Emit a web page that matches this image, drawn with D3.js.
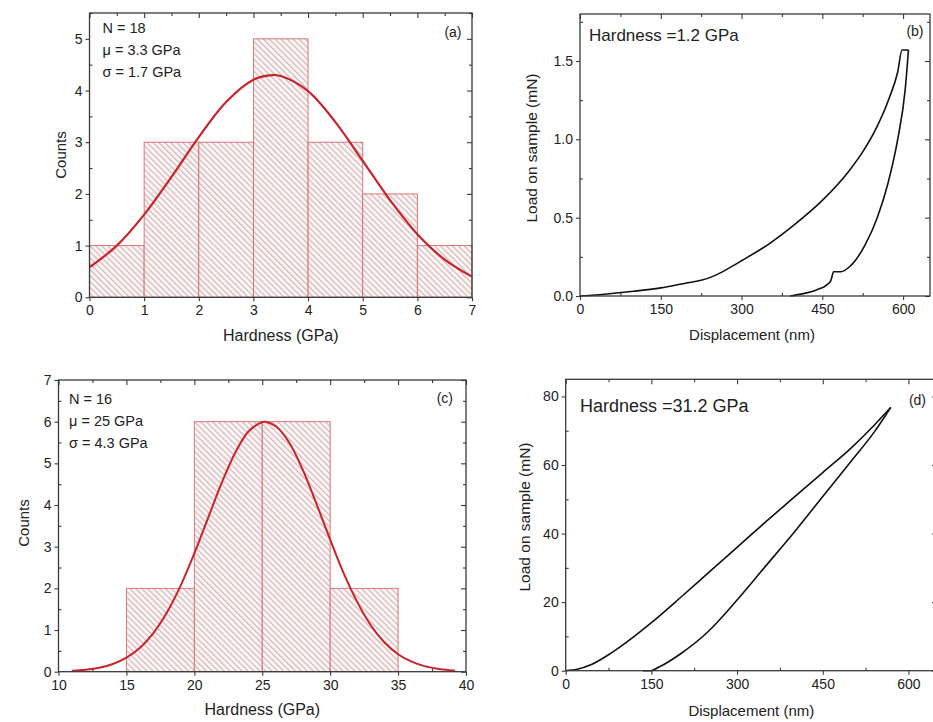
<!DOCTYPE html>
<html>
<head>
<meta charset="utf-8">
<script src="https://cdn.jsdelivr.net/npm/d3@7"></script>
<style>
  body { margin: 0; background: #fff; }
  svg { display: block; font-family: "Liberation Sans", Arial, sans-serif; }
  .frame { fill: none; stroke: #3a3a3a; stroke-width: 1.3; }
  .axis path { display: none; }
  .axis line { stroke: #3a3a3a; stroke-width: 1.1; }
  .axis text { fill: #222; font-size: 14px; font-family: "Liberation Sans", Arial, sans-serif; }
</style>
</head>
<body>
<svg id="fig" width="933" height="722"></svg>
<script>
// ---- panel (a): hardness histogram, soft sample
const binEdgesA = [0, 1, 2, 3, 4, 5, 6, 7];
const countsA = [1, 3, 3, 5, 3, 2, 1];
const fitXA = [0, 0.5, 1, 1.5, 2, 2.5, 3, 3.35, 3.5, 4, 4.5, 5, 5.5, 6, 6.5, 7];
const fitYA = [0.58, 1.0, 1.6, 2.33, 3.1, 3.78, 4.21, 4.3, 4.28, 3.99, 3.39, 2.64, 1.88, 1.22, 0.73, 0.4];
const statsA = ["N = 18", "\u03bc = 3.3 GPa", "\u03c3 = 1.7 GPa"];

// ---- panel (b): load-displacement, 1.2 GPa
const loadXB = [0, 50, 100, 150, 200, 225, 250, 275, 300, 350, 400, 450, 500, 525, 550, 575, 590, 598, 610];
const loadYB = [0, 0.013, 0.03, 0.052, 0.085, 0.1, 0.13, 0.175, 0.225, 0.33, 0.46, 0.61, 0.8, 0.92, 1.07, 1.27, 1.43, 1.57, 1.57];
const unloadXB = [390, 415, 440, 458, 466, 471, 484.5, 500, 512, 530, 552, 572, 590, 604, 610];
const unloadYB = [0, 0.015, 0.04, 0.07, 0.1, 0.155, 0.155, 0.185, 0.23, 0.33, 0.5, 0.72, 1.0, 1.32, 1.57];

// ---- panel (c): hardness histogram, hard sample
const binEdgesC = [15, 20, 25, 30, 35];
const countsC = [2, 6, 6, 2];
const fitXC = [11, 12, 13, 14, 15, 16, 17, 18, 19, 20, 21, 22, 23, 24, 25, 25.2, 26, 27, 28, 29, 30, 31, 32, 33, 34, 35, 36, 37, 38, 39, 39.2];
const fitYC = [0.023, 0.048, 0.097, 0.186, 0.337, 0.576, 0.933, 1.43, 2.07, 2.84, 3.68, 4.52, 5.25, 5.77, 5.99, 6.0, 5.89, 5.49, 4.83, 4.02, 3.17, 2.36, 1.67, 1.11, 0.7, 0.42, 0.24, 0.127, 0.064, 0.031, 0.025];
const statsC = ["N = 16", "\u03bc = 25 GPa", "\u03c3 = 4.3 GPa"];

// ---- panel (d): load-displacement, 31.2 GPa
const loadXD = [0, 20, 45, 80, 120, 150, 200, 250, 300, 350, 400, 450, 500, 540, 569];
const loadYD = [0, 0.4, 1.8, 5.2, 10, 14, 21.2, 28.6, 36, 43.4, 50.6, 57.8, 65, 71.6, 76.8];
const unloadXD = [135, 148, 165, 200, 250, 300, 350, 400, 450, 500, 540, 569];
const unloadYD = [0, 0, 1.2, 4.8, 11.5, 20.6, 30.5, 40.4, 50.8, 61.2, 69.6, 76.8];

// ---- tick values
const xTicksA = [0, 1, 2, 3, 4, 5, 6, 7], yTicksA = [0, 1, 2, 3, 4, 5];
const xTicksB = [0, 150, 300, 450, 600], yTicksB = [0, 0.5, 1.0, 1.5];
const xTicksC = [10, 15, 20, 25, 30, 35, 40], yTicksC = [0, 1, 2, 3, 4, 5, 6, 7];
const xTicksD = [0, 150, 300, 450, 600], yTicksD = [0, 20, 40, 60, 80];

const svg = d3.select("#fig");

//hatch pattern for histogram bars
const defs = svg.append("defs");
const pat = defs.append("pattern")
  .attr("id", "hatch")
  .attr("patternUnits", "userSpaceOnUse")
  .attr("width", 4.2)
  .attr("height", 4.2)
  .attr("patternTransform", "rotate(45)");
pat.append("rect").attr("width", 4.2).attr("height", 4.2).attr("fill", "#fdf6f6");
pat.append("line")
  .attr("x1", 0).attr("x2", 4.2).attr("y1", 1).attr("y2", 1)
  .attr("stroke", "#c6a0a0").attr("stroke-width", 0.9);

function panel(p) {
  const g = svg.append("g");
  const x = d3.scaleLinear().domain(p.xDomain).range([p.left, p.right]);
  const y = d3.scaleLinear().domain(p.yDomain).range([p.bottom, p.top]);
  const w = p.right - p.left, h = p.bottom - p.top;

  //minor ticks (inside)
  g.append("g").attr("class", "axis").attr("transform", `translate(0,${p.bottom})`)
    .call(d3.axisBottom(x).tickValues(p.xMinor).tickSize(-3).tickFormat(""));
  g.append("g").attr("class", "axis").attr("transform", `translate(${p.left},0)`)
    .call(d3.axisLeft(y).tickValues(p.yMinor).tickSize(-3).tickFormat(""));
  g.append("g").attr("class", "axis").attr("transform", `translate(0,${p.top})`)
    .call(d3.axisTop(x).tickValues(p.xMinor).tickSize(-3).tickFormat(""));
  g.append("g").attr("class", "axis").attr("transform", `translate(${p.right},0)`)
    .call(d3.axisRight(y).tickValues(p.yMinor).tickSize(-3).tickFormat(""));
  //major ticks
  g.append("g").attr("class", "axis").attr("transform", `translate(0,${p.bottom})`)
    .call(d3.axisBottom(x).tickValues(p.xTicks).tickSize(4).tickPadding(4).tickFormat(d3.format("d")));
  g.append("g").attr("class", "axis").attr("transform", `translate(${p.left},0)`)
    .call(d3.axisLeft(y).tickValues(p.yTicks).tickSize(4).tickPadding(3).tickFormat(p.yFormat));
  g.append("g").attr("class", "axis").attr("transform", `translate(0,${p.top})`)
    .call(d3.axisTop(x).tickValues(p.xTicks).tickSize(-5).tickFormat(""));
  g.append("g").attr("class", "axis").attr("transform", `translate(${p.right},0)`)
    .call(d3.axisRight(y).tickValues(p.yTicks).tickSize(-5).tickFormat(""));

  //bars
  if (p.counts) {
    g.selectAll("rect.bar")
      .data(p.counts)
      .enter()
      .append("rect")
      .attr("class", "bar")
      .attr("x", (d, i) => x(p.edges[i]))
      .attr("y", d => y(d))
      .attr("width", (d, i) => x(p.edges[i + 1]) - x(p.edges[i]))
      .attr("height", d => y(0) - y(d))
      .attr("fill", "url(#hatch)")
      .attr("stroke", "#d66a6a")
      .attr("stroke-width", 0.9);
  }
  //curves
  p.lines.forEach(l => {
    const pts = l.xs.map((v, i) => [v, l.ys[i]]);
    g.append("path")
      .datum(pts)
      .attr("fill", "none")
      .attr("stroke", l.color)
      .attr("stroke-width", l.width)
      .attr("stroke-linejoin", "round")
      .attr("d", d3.line().x(d => x(d[0])).y(d => y(d[1])).curve(l.curve)(pts));
  });

  g.append("rect").attr("class", "frame")
    .attr("x", p.left).attr("y", p.top).attr("width", w).attr("height", h);

  //axis titles
  g.append("text")
    .attr("x", (p.left + p.right) / 2 + p.xTitleDx)
    .attr("y", p.xTitleY)
    .attr("text-anchor", "middle")
    .style("font-size", p.xTitleSize + "px")
    .attr("fill", "#222")
    .text(p.xTitle);
  g.append("text")
    .attr("transform", `translate(${p.yTitleX},${p.yTitleY}) rotate(-90)`)
    .attr("text-anchor", "middle")
    .style("font-size", p.yTitleSize + "px")
    .attr("fill", "#222")
    .text(p.yTitle);

  //panel letter
  g.append("text")
    .attr("x", p.letterX).attr("y", p.letterY)
    .attr("text-anchor", "end")
    .style("font-size", "14px")
    .attr("fill", "#222")
    .text(p.letter);

  //annotation lines
  p.notes.forEach((t, i) => {
    g.append("text")
      .attr("x", p.noteX)
      .attr("y", p.noteY + i * p.noteStep)
      .style("font-size", p.noteSize + "px")
      .attr("fill", "#222")
      .text(t);
  });
}

const halfSteps = (a, b, s) => d3.range(a, b + s / 2, s);

panel({
  left: 89.5, right: 472, top: 13, bottom: 297.3,
  xDomain: [0, 7], yDomain: [0, 5.5],
  xTicks: xTicksA, yTicks: yTicksA,
  xMinor: halfSteps(0.5, 6.5, 1), yMinor: halfSteps(0.5, 5.5, 1),
  yFormat: d3.format("d"),
  edges: binEdgesA, counts: countsA,
  lines: [{ xs: fitXA, ys: fitYA, color: "#c8242b", width: 2.2, curve: d3.curveCatmullRom }],
  xTitle: "Hardness (GPa)", xTitleY: 340.5, xTitleDx: 0, xTitleSize: 16,
  yTitle: "Counts", yTitleX: 66, yTitleY: 155, yTitleSize: 15,
  letter: "(a)", letterX: 461.5, letterY: 36.5,
  notes: statsA, noteX: 102.5, noteY: 32.5, noteStep: 22, noteSize: 14.5
});

panel({
  left: 580, right: 930, top: 14, bottom: 296,
  xDomain: [0, 650], yDomain: [0, 1.8],
  xTicks: xTicksB, yTicks: yTicksB,
  xMinor: halfSteps(75, 625, 150), yMinor: halfSteps(0.25, 1.75, 0.5),
  yFormat: d3.format(".1f"),
  lines: [
    { xs: loadXB, ys: loadYB, color: "#111", width: 1.6, curve: d3.curveMonotoneX },
    { xs: unloadXB, ys: unloadYB, color: "#111", width: 1.6, curve: d3.curveMonotoneX }
  ],
  xTitle: "Displacement (nm)", xTitleY: 339.5, xTitleDx: -3, xTitleSize: 15,
  yTitle: "Load on sample (mN)", yTitleX: 537, yTitleY: 148, yTitleSize: 15.5,
  letter: "(b)", letterX: 923.5, letterY: 36,
  notes: ["Hardness =1.2 GPa"], noteX: 589, noteY: 40.5, noteStep: 0, noteSize: 17
});

panel({
  left: 58.5, right: 466, top: 380, bottom: 671.7,
  xDomain: [10, 40], yDomain: [0, 7],
  xTicks: xTicksC, yTicks: yTicksC,
  xMinor: halfSteps(12.5, 37.5, 5), yMinor: halfSteps(0.5, 6.5, 1),
  yFormat: d3.format("d"),
  edges: binEdgesC, counts: countsC,
  lines: [{ xs: fitXC, ys: fitYC, color: "#c8242b", width: 2, curve: d3.curveCatmullRom }],
  xTitle: "Hardness (GPa)", xTitleY: 715, xTitleDx: 0, xTitleSize: 16,
  yTitle: "Counts", yTitleX: 29, yTitleY: 523, yTitleSize: 15,
  letter: "(c)", letterX: 453, letterY: 403,
  notes: statsC, noteX: 69, noteY: 403.5, noteStep: 22, noteSize: 14.5
});

panel({
  left: 565.7, right: 937, top: 379.3, bottom: 670.7,
  xDomain: [0, 650], yDomain: [0, 85],
  xTicks: xTicksD, yTicks: yTicksD,
  xMinor: halfSteps(75, 625, 150), yMinor: halfSteps(10, 70, 20),
  yFormat: d3.format("d"),
  lines: [
    { xs: loadXD, ys: loadYD, color: "#111", width: 1.6, curve: d3.curveMonotoneX },
    { xs: unloadXD, ys: unloadYD, color: "#111", width: 1.6, curve: d3.curveMonotoneX }
  ],
  xTitle: "Displacement (nm)", xTitleY: 716, xTitleDx: 0, xTitleSize: 15,
  yTitle: "Load on sample (mN)", yTitleX: 530, yTitleY: 517, yTitleSize: 15.5,
  letter: "(d)", letterX: 926, letterY: 405,
  notes: ["Hardness =31.2 GPa"], noteX: 580, noteY: 412, noteStep: 0, noteSize: 18
});
</script>
</body>
</html>
